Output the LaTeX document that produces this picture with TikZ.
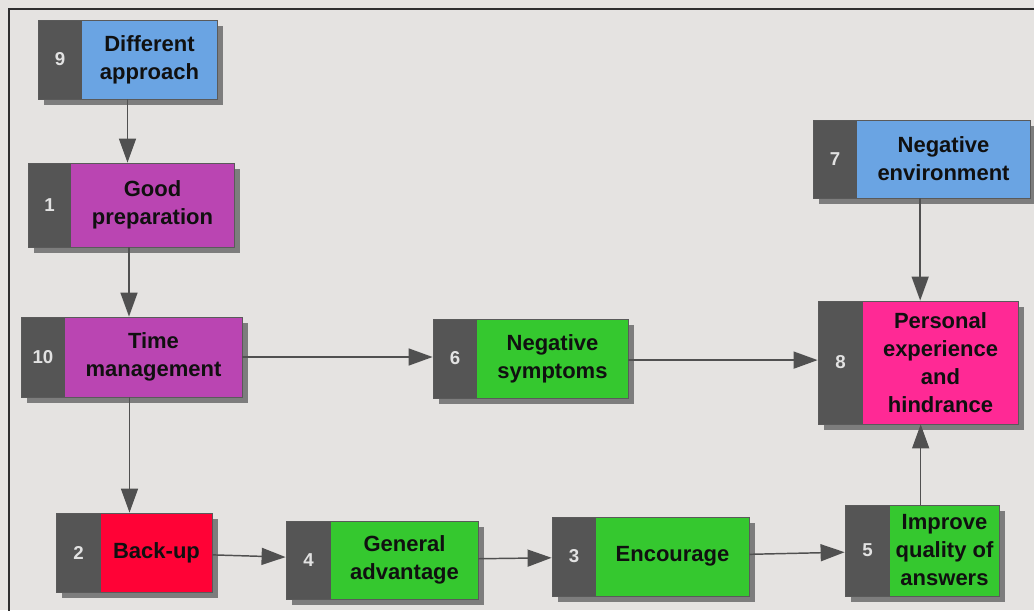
\documentclass[tikz,border=0pt]{standalone}
\usepackage{fontspec}
\setmainfont{Liberation Sans}
\usetikzlibrary{arrows.meta,fit}

\definecolor{bgc}{HTML}{E5E3E1}
\definecolor{framec}{HTML}{2E2E2E}
\definecolor{shadowc}{HTML}{7D7D7D}
\definecolor{edgec}{HTML}{5A5A5A}
\definecolor{darkc}{HTML}{555555}
\definecolor{numc}{HTML}{E2E2E2}
\definecolor{txtc}{HTML}{101010}
\definecolor{linkc}{HTML}{505050}
\definecolor{blueb}{HTML}{6AA4E3}
\definecolor{purpleb}{HTML}{BA45B2}
\definecolor{greenb}{HTML}{35C82F}
\definecolor{redb}{HTML}{FF0236}
\definecolor{pinkb}{HTML}{FF2995}

\tikzset{
  boxshadow/.style={fill=shadowc},
  boxframe/.style={draw=edgec, line width=0.6pt, inner sep=0pt},
  numtext/.style={text=numc, inner sep=0pt, font=\fontsize{14}{16}\selectfont\bfseries},
  labeltext/.style={text=txtc, align=center, inner sep=0pt, font=\fontsize{16.5}{21}\selectfont\bfseries},
  link/.style={draw=linkc, line width=1.1pt, -{Triangle[length=18pt,width=12.75pt]}}
}

% name, x1, y1, x2, y2, end of dark strip, fill colour, number, label
\newcommand\flowbox[9]{%
  \fill[boxshadow] (#2+6,#3+6) rectangle (#4+6,#5+6);
  \node[boxframe, fill=#7, fit={(#2,#3) (#4,#5)}] (#1) {};
  \fill[darkc] (#2,#3) rectangle (#6,#5);
  \draw[edgec, line width=0.6pt] (#2,#3) rectangle (#4,#5);
  \node[numtext] (#1-num) at ({(#2+#6)/2},{(#3+#5)/2}) {#8};
  \node[labeltext] (#1-txt) at ({(#6+#4)/2},{(#3+#5)/2}) {#9};
}

\begin{document}
\begin{tikzpicture}[x=0.75pt,y=-0.75pt]
\useasboundingbox (0,0) rectangle (1034,610);
\clip (0,0) rectangle (1034,610);
\fill[bgc] (0,0) rectangle (1034,610);
\draw[framec, line width=1.5pt] (8.5,612) -- (8.5,9.5) -- (1036,9.5);

\flowbox{n9}{38}{20}{217}{99}{82}{blueb}{9}{Different\\approach}
\flowbox{n1}{28}{163}{234}{247}{71}{purpleb}{1}{Good\\preparation}
\flowbox{n10}{21}{317}{242}{397}{65}{purpleb}{10}{Time\\management}
\flowbox{n6}{433}{319}{628}{398}{477}{greenb}{6}{Negative\\symptoms}
\flowbox{n7}{813}{120}{1030}{198}{857}{blueb}{7}{Negative\\environment}
\flowbox{n8}{818}{301}{1018}{424}{863}{pinkb}{8}{Personal\\experience\\and\\hindrance}
\flowbox{n5}{845}{505}{999}{596}{890}{greenb}{5}{Improve\\quality of\\answers}
\flowbox{n4}{286}{521}{478}{599}{331}{greenb}{4}{General\\advantage}
\flowbox{n3}{552}{517}{749}{596}{596}{greenb}{3}{Encourage}
\flowbox{n2}{56}{513}{212}{592}{101}{redb}{2}{Back-up}

% straight runs leave the source box square to its edge
\draw[link] (n9) -- (n9 |- n1.north);
\draw[link] ([xshift=-1.5pt]n1.south) -- ([xshift=-1.5pt]n1.south |- n10.north);
\draw[link] ([xshift=-1.5pt]n10.south) -- ([xshift=-1.5pt]n10.south |- n2.north);
\draw[link] (n10) -- (n10 -| n6.west);
\draw[link] ([yshift=-1.2pt]n6.east) -- ([yshift=-1.2pt]n6.east -| n8.west);
\draw[link] ([xshift=-1pt]n7.south) -- ([xshift=-1pt]n7.south |- n8.north);
\draw[link] ([xshift=-1pt]n5.north) -- ([xshift=-1pt]n5.north |- n8.south);
% bottom row runs centre to centre
\draw[link] (n2) -- (n4);
\draw[link] (n4) -- (n3);
\draw[link] (n3) -- (n5);
\end{tikzpicture}
\end{document}
